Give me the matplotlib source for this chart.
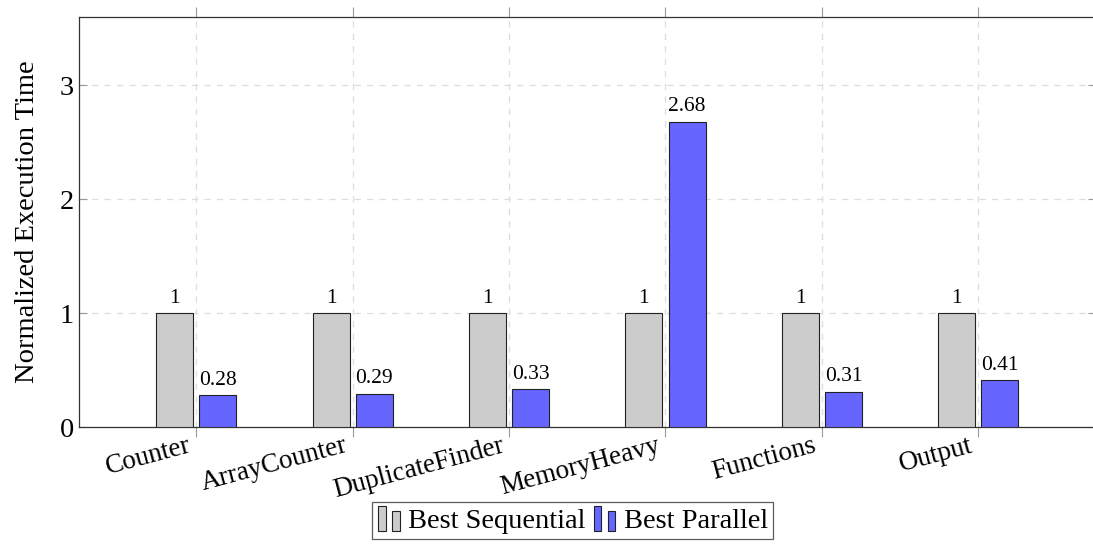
import matplotlib.pyplot as plt
import matplotlib.patches as mpatches
import matplotlib.transforms as mtransforms
from matplotlib.legend_handler import HandlerBase
import numpy as np

plt.rcParams['font.family'] = ['Liberation Serif', 'DejaVu Serif']
plt.rcParams['mathtext.fontset'] = 'stix'

benchmarks = ['Counter', 'ArrayCounter', 'DuplicateFinder', 'MemoryHeavy', 'Functions', 'Output']
sequential = [1, 1, 1, 1, 1, 1]
parallel = [0.28, 0.29, 0.33, 2.68, 0.31, 0.41]
series_names = ['Best Sequential', 'Best Parallel']

gray = '#cccccc'
blue = '#6666ff'


# pgfplots style legend: two small bars per entry
class TwoBars(HandlerBase):
    def create_artists(self, legend, orig, xd, yd, w, h, fontsize, trans):
        bw = w * 0.3
        r1 = mpatches.Rectangle((xd, yd - 0.15 * h), bw, h * 1.25,
                                facecolor=orig.get_facecolor(), edgecolor='#222222',
                                lw=0.8, transform=trans)
        r2 = mpatches.Rectangle((xd + w * 0.55, yd - 0.15 * h), bw, h * 1.0,
                                facecolor=orig.get_facecolor(), edgecolor='#222222',
                                lw=0.8, transform=trans)
        return [r1, r2]


fig = plt.figure(figsize=(10.93, 5.44), dpi=100)
ax = fig.add_axes([0.0723, 0.215, 0.93, 0.754])

x = np.arange(len(benchmarks))
width = 0.237
off = 0.138
b1 = ax.bar(x - off, sequential, width, color=gray, edgecolor='#222222', lw=0.8,
            label=series_names[0], zorder=3)
b2 = ax.bar(x + off, parallel, width, color=blue, edgecolor='#222222', lw=0.8,
            label=series_names[1], zorder=3)

for rects, vals in ((b1, sequential), (b2, parallel)):
    for r, v in zip(rects, vals):
        ax.annotate('%g' % v, (r.get_x() + r.get_width() / 2, v),
                    xytext=(0, 4), textcoords='offset points',
                    ha='center', va='bottom', fontsize=15.5)

ax.set_xlim(-0.75, 5.75)
ax.set_ylim(0, 3.6)
ax.set_yticks([0, 1, 2, 3])
ax.set_xticks(x)
ax.set_xticklabels(benchmarks, rotation=15, ha='right', rotation_mode='anchor')
ax.tick_params(axis='x', direction='out', top=True, length=7, color='#999999',
               labelsize=19.5, pad=4)
ax.tick_params(axis='y', direction='in', right=True, length=6, color='#999999',
               labelsize=20.5)
# nudge category labels left/up like the original
shift = mtransforms.ScaledTranslation(-0.09, 0.09, fig.dpi_scale_trans)
for lab in ax.get_xticklabels():
    lab.set_transform(lab.get_transform() + shift)

ax.set_ylabel('Normalized Execution Time', fontsize=20.5)
ax.yaxis.set_label_coords(-0.038, 0.5)

ax.grid(True, ls=(0, (5, 5)), color='#dddddd', lw=0.9, zorder=0)
for s in ax.spines.values():
    s.set_color('#333333')
    s.set_linewidth(0.9)

leg = fig.legend(handles=[b1[0], b2[0]], labels=series_names,
                 handler_map={b1[0]: TwoBars(), b2[0]: TwoBars()},
                 loc='upper center', bbox_to_anchor=(0.524, 0.077), ncol=2,
                 fontsize=20.5, frameon=True, fancybox=False, edgecolor='#333333',
                 handlelength=0.9, handletextpad=0.15, columnspacing=0.3,
                 borderpad=0.2, borderaxespad=0)
leg.get_frame().set_linewidth(0.9)

fig.savefig('out.png', dpi=100)
